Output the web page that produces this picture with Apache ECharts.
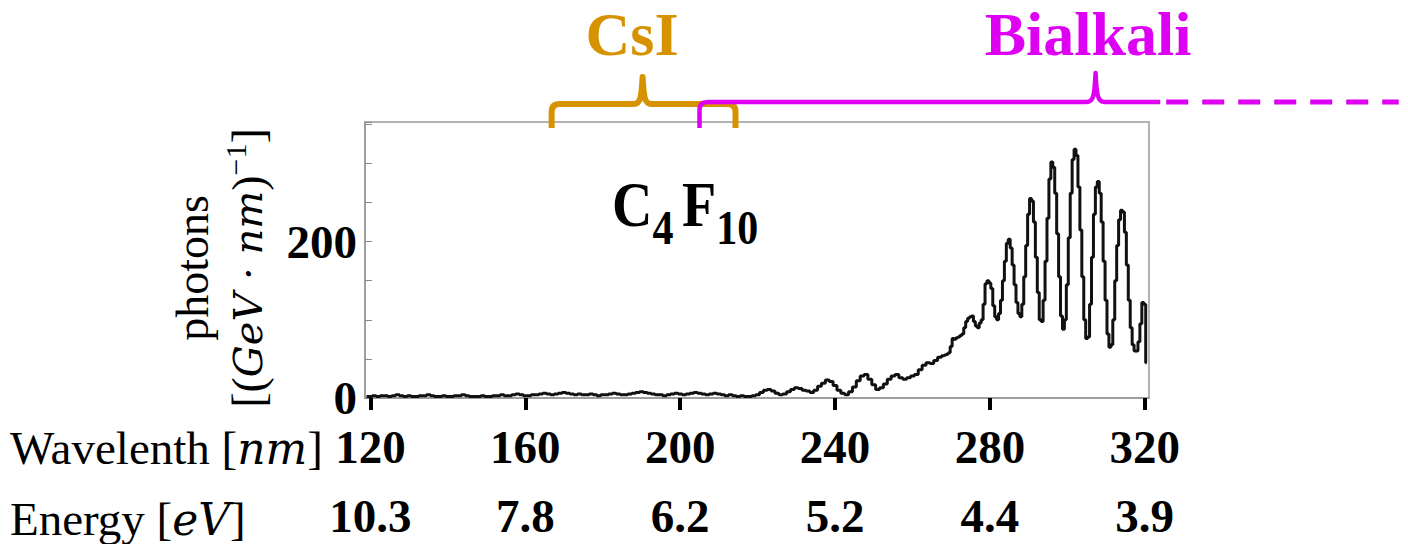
<!DOCTYPE html>
<html><head><meta charset="utf-8">
<script src="https://cdn.jsdelivr.net/npm/echarts@6/dist/echarts.min.js"></script>
<style>html,body{margin:0;padding:0;background:#fff}#c{width:1408px;height:544px}</style>
</head><body><div id="c"></div>
<script>
// ---- data ----
const wavelengthTicks = [120, 160, 200, 240, 280, 320];
const energyTickLabels = ['10.3', '7.8', '6.2', '5.2', '4.4', '3.9'];
const yLabelValues = [0, 200];

const wavelength = [
119,120,121,122,123,124,125,126,127,128,129,130,131,132,133,134,135,136,137,138,
139,140,141,142,143,144,145,146,147,148,149,150,151,152,153,154,155,156,157,158,
159,160,161,162,163,164,165,166,167,168,169,170,171,172,173,174,175,176,177,178,
179,180,181,182,183,184,185,186,187,188,189,190,191,192,193,194,195,196,197,198,
199,200,201,202,203,204,205,206,207,208,209,210,211,212,213,214,215,216,217,218,
219,220,221,222,223,224,225,226,227,228,229,230,231,232,233,234,235,236,237,238,
239,240,241,242,243,244,245,246,247,248,249,250,251,252,253,254,255,256,257,258,
259,260,261,262,263,264,265,266,267,
268,268.5,269,269.5,270,270.5,271,271.5,272,272.5,273,273.5,274,274.5,275,275.5,
276,276.5,277,277.5,278,278.5,279,279.5,280,280.5,281,281.5,282,282.5,283,283.5,
284,284.5,285,285.5,286,286.5,287,287.5,288,288.5,289,289.5,290,290.5,291,291.5,
292,292.5,293,293.5,294,294.5,295,295.5,296,296.5,297,297.5,298,298.5,299,299.5,
300,300.5,301,301.5,302,302.5,303,303.5,304,304.5,305,305.5,306,306.5,307,307.5,
308,308.5,309,309.5,310,310.5,311,311.5,312,312.5,313,313.5,314,314.5,315,315.5,
316,316.5,317,317.5,318,318.5,319,319.5,320,320.5
];
const photons = [
2,2,3,2,3,3,2,3,4,3,2,3,2,2,3,3,4,3,2,2,
3,2,2,3,3,4,3,2,2,2,3,2,2,3,3,4,3,3,4,5,
4,3,3,4,4,5,6,5,4,5,6,7,6,5,4,5,4,4,5,4,
3,4,4,5,6,5,4,4,5,6,7,8,7,6,5,4,4,3,4,5,
6,5,4,5,6,7,6,5,4,5,6,5,4,3,4,3,2,3,2,2,
3,4,7,10,11,9,6,4,5,8,11,13,12,10,9,7,10,15,19,23,
21,16,10,6,4,8,14,22,28,30,24,17,11,13,18,24,28,30,26,24,
26,28,30,36,42,45,44,48,52,
54,55,56,58,66,76,75,77,78,80,82,90,98,102,104,105,
98,92,90,96,100,120,146,150,147,140,118,104,100,108,125,150,
175,198,203,192,170,145,122,108,104,120,155,195,235,255,252,225,
180,135,100,98,125,175,230,280,302,295,262,210,155,105,88,100,
145,205,262,305,318,310,270,215,155,100,76,78,120,180,235,270,
277,262,225,175,125,82,65,68,100,150,195,228,240,238,212,170,
125,90,68,60,60,72,95,122,120,45
];

// detector sensitivity ranges [nm]
const csiRange = [166.8, 214.3];
const csiPeak = 190.3;
const bialkaliRange = [205, 324];
const bialkaliDashedEnd = 385.6;
const bialkaliPeak = 307.3;

const X_MIN = 118.6, X_MAX = 321.1, Y_MAX = 353;

const serif = "'Liberation Serif', 'Times New Roman', serif";
const mathIt = "'DejaVu Serif', 'Liberation Serif', serif";
const ORANGE = '#d69200', MAGENTA = '#de00f2';

const chart = echarts.init(document.getElementById('c'), null, {renderer: 'svg'});

const lineData = wavelength.map((w, i) => [w, photons[i]]);
const bracketData = [
  [csiRange[0], csiRange[1], csiPeak, csiRange[1], 0],
  [bialkaliRange[0], bialkaliRange[1], bialkaliPeak, bialkaliDashedEnd, 1]
];

function renderBracket(params, api) {
  const x0 = api.coord([api.value(0), Y_MAX])[0];
  const x1 = api.coord([api.value(1), Y_MAX])[0];
  const xp = api.coord([api.value(2), Y_MAX])[0];
  const x2 = api.coord([api.value(3), Y_MAX])[0];
  const top = api.coord([api.value(0), Y_MAX])[1];
  const kind = api.value(4);
  const r = 8;
  if (kind === 0) {
    const yL = top - 18, yPk = top - 45, yE = top + 6;
    const d = `M${x0},${yE} L${x0},${yL + r} Q${x0},${yL} ${x0 + r},${yL} L${xp - 9},${yL} ` +
      `C${xp - 2},${yL} ${xp - 1},${yL - 7} ${xp},${yPk} C${xp + 1},${yL - 7} ${xp + 2},${yL} ${xp + 9},${yL} ` +
      `L${x1 - r},${yL} Q${x1},${yL} ${x1},${yL + r} L${x1},${yE}`;
    return {type: 'path', shape: {pathData: d},
      style: {fill: 'none', stroke: ORANGE, lineWidth: 6, lineJoin: 'round'}};
  }
  const yL = top - 20, yPk = top - 49, yE = top + 6;
  const d = `M${x0},${yE} L${x0},${yL + r} Q${x0},${yL} ${x0 + r},${yL} L${xp - 9},${yL} ` +
    `C${xp - 2},${yL} ${xp - 1},${yL - 7} ${xp},${yPk} C${xp + 1},${yL - 7} ${xp + 2},${yL} ${xp + 9},${yL} ` +
    `L${x1},${yL}`;
  return {type: 'group', children: [
    {type: 'path', shape: {pathData: d},
      style: {fill: 'none', stroke: MAGENTA, lineWidth: 4.5, lineJoin: 'round'}},
    {type: 'line', shape: {x1: x1 + 6, y1: yL, x2: x2, y2: yL},
      style: {stroke: MAGENTA, lineWidth: 5, lineDash: [22, 14]}}
  ]};
}

const tickLabelStyle = {fontFamily: serif, fontWeight: 'bold', fontSize: 47, color: '#000'};

chart.setOption({
  animation: false,
  backgroundColor: '#fff',
  grid: {left: 365, right: 259, top: 122, bottom: 146, show: true,
    borderColor: '#9a9a9a', borderWidth: 1.5, backgroundColor: 'transparent'},
  xAxis: [{
    type: 'value', min: X_MIN, max: X_MAX,
    axisLine: {show: true, lineStyle: {color: '#999', width: 1.5}},
    axisTick: {show: true, customValues: wavelengthTicks, length: 12, lineStyle: {color: '#000', width: 4}},
    axisLabel: Object.assign({customValues: wavelengthTicks, margin: 25}, tickLabelStyle),
    splitLine: {show: false}
  }, {
    type: 'value', min: X_MIN, max: X_MAX, position: 'bottom', offset: 73,
    axisLine: {show: false}, axisTick: {show: false},
    axisLabel: Object.assign({customValues: wavelengthTicks, margin: 25, lineHeight: 40,
      formatter: v => energyTickLabels[wavelengthTicks.indexOf(v)] || ''}, tickLabelStyle),
    splitLine: {show: false}
  }],
  yAxis: {
    type: 'value', min: 0, max: Y_MAX, interval: 50,
    axisLine: {show: true, lineStyle: {color: '#999', width: 1.5}},
    axisTick: {show: true, inside: true, length: 7, lineStyle: {color: '#888', width: 1}},
    axisLabel: Object.assign({margin: 8, formatter: v => yLabelValues.indexOf(v) >= 0 ? String(v) : ''}, tickLabelStyle),
    splitLine: {show: false}
  },
  series: [{
    type: 'line', data: lineData, step: 'middle', showSymbol: false, symbol: 'none',
    lineStyle: {color: '#111', width: 3}, z: 3
  }, {
    type: 'custom', data: bracketData, renderItem: renderBracket, clip: false,
    encode: {x: [0, 1]}, z: 5, silent: true
  }],
  graphic: [
    {type: 'text', x: 10, y: 448, style: {
      text: '{r|Wavelenth [}{i|nm}{r|]}', align: 'left', verticalAlign: 'middle',
      textAlign: 'left', textVerticalAlign: 'middle',
      rich: {r: {fontFamily: serif, fontSize: 47, lineHeight: 44, fill: '#000', color: '#000'},
             i: {fontFamily: mathIt, fontSize: 44, lineHeight: 44, fontStyle: 'italic', fill: '#000', color: '#000'}}}},
    {type: 'text', x: 10, y: 519, style: {
      text: '{r|Energy [}{i|eV}{r|]}', align: 'left', verticalAlign: 'middle',
      textAlign: 'left', textVerticalAlign: 'middle',
      rich: {r: {fontFamily: serif, fontSize: 47, lineHeight: 40, fill: '#000', color: '#000'},
             i: {fontFamily: mathIt, fontSize: 44, lineHeight: 40, fontStyle: 'italic', fill: '#000', color: '#000'}}}},
    {type: 'text', x: 220, y: 268, rotation: Math.PI / 2, style: {
      text: '{r|photons}\n{r|[(}{i|GeV · nm}{r|)}{s|−1}{r|]}', align: 'center', verticalAlign: 'middle',
      textAlign: 'center', textVerticalAlign: 'middle',
      rich: {r: {fontFamily: serif, fontSize: 46, lineHeight: 56, fill: '#000', color: '#000'},
             i: {fontFamily: mathIt, fontSize: 40, lineHeight: 56, fontStyle: 'italic', fill: '#000', color: '#000'},
             s: {fontFamily: serif, fontSize: 30, lineHeight: 30, verticalAlign: 'top', fill: '#000', color: '#000'}}}},
    {type: 'text', x: 612, y: 212, scaleY: 1.15, style: {
      text: '{b|C}{u|4}{sp| }{b|F}{u|10}', align: 'left', verticalAlign: 'middle',
      textAlign: 'left', textVerticalAlign: 'middle',
      rich: {b: {fontFamily: serif, fontWeight: 'bold', fontSize: 56, lineHeight: 70, verticalAlign: 'top', fill: '#000', color: '#000'},
             u: {fontFamily: serif, fontWeight: 'bold', fontSize: 42, lineHeight: 42, verticalAlign: 'bottom', fill: '#000', color: '#000'},
             sp: {fontFamily: serif, fontSize: 34, lineHeight: 20}}}},
    {type: 'text', x: 632, y: 34, style: {
      text: 'CsI', font: `bold 62px ${serif}`, fill: ORANGE, align: 'center', verticalAlign: 'middle',
      textAlign: 'center', textVerticalAlign: 'middle'}},
    {type: 'text', x: 1088, y: 34, style: {
      text: 'Bialkali', font: `bold 62px ${serif}`, fill: MAGENTA, align: 'center', verticalAlign: 'middle',
      textAlign: 'center', textVerticalAlign: 'middle'}}
  ]
});
</script></body></html>
